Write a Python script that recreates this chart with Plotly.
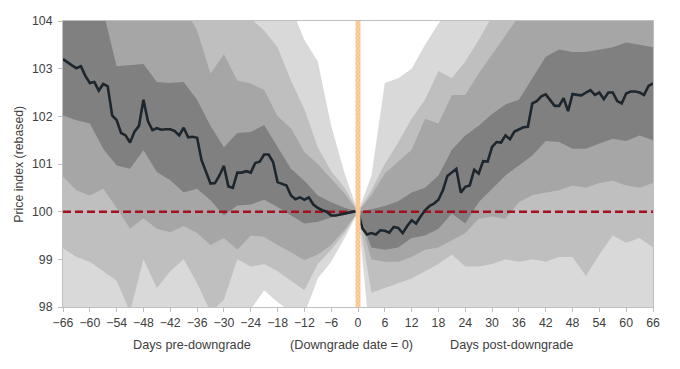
import plotly.graph_objects as go

# ---------------- data ----------------
band_days = list(range(-66, 67, 3))

# percentile band edges (outer -> inner)
p_lo4 = [97.3, 97.3, 97.2, 97.2, 97.2, 97.0, 97.3, 97.2, 97.3, 97.4,
         97.4, 97.4, 97.5, 97.7, 97.95, 98.35, 98.1, 97.9, 97.85, 98.6,
         98.95, 99.45, 100.0, 97.0, 97.0, 97.1, 97.1, 97.2, 97.2, 97.3,
         97.3, 97.3, 97.4, 97.4, 97.4, 97.5, 97.5, 97.5, 97.5, 97.6,
         97.6, 97.6, 97.6, 97.7, 97.7]
p_lo3 = [99.23, 99.05, 98.95, 98.75, 98.55, 97.9, 99.0, 98.4, 98.75, 99.0,
         98.5, 97.9, 98.15, 99.0, 98.85, 98.9, 98.75, 98.55, 98.35, 98.9,
         99.2, 99.55, 100.0, 98.3, 98.4, 98.5, 98.6, 98.75, 98.9, 99.1,
         98.85, 98.85, 98.9, 99.0, 98.95, 99.0, 98.95, 99.05, 99.05, 98.65,
         99.1, 99.5, 99.35, 99.45, 99.25]
p_lo2 = [100.73, 100.45, 100.34, 100.48, 100.08, 99.64, 99.86, 99.64, 99.57, 99.7,
         99.55, 99.3, 99.45, 99.2, 99.5, 99.47, 99.3, 99.15, 98.98, 99.1,
         99.3, 99.62, 100.0, 99.0, 98.95, 98.95, 99.05, 99.2, 99.25, 99.4,
         99.55, 99.85, 99.9, 99.85, 100.2, 100.35, 100.4, 100.45, 100.55, 100.5,
         100.6, 100.65, 100.55, 100.5, 100.6]
p_lo1 = [102.02, 101.92, 101.85, 101.32, 100.97, 100.9, 101.29, 100.83, 100.66, 100.4,
         100.48, 100.24, 99.92, 100.13, 100.15, 100.25, 100.1, 99.92, 99.75, 99.79,
         99.88, 99.93, 100.0, 99.25, 99.2, 99.25, 99.45, 99.5, 99.64, 99.96,
         99.75, 100.2, 100.48, 100.76, 100.97, 101.18, 101.48, 101.46, 101.32, 101.32,
         101.43, 101.53, 101.48, 101.6, 101.5]
p_hi1 = [104.4, 104.3, 104.25, 104.2, 103.05, 103.08, 103.1, 102.72, 102.7, 102.72,
         102.35, 101.8, 101.35, 101.65, 101.67, 101.82, 101.35, 100.9, 100.65, 100.34,
         100.2, 100.08, 100.0, 100.05, 100.12, 100.22, 100.4, 100.5, 100.76, 101.3,
         101.6, 101.8, 102.05, 102.25, 102.35, 102.8, 103.25, 103.4, 103.35, 103.35,
         103.4, 103.45, 103.55, 103.5, 103.45]
p_hi2 = [105.5, 105.4, 105.3, 105.2, 105.0, 104.9, 104.8, 104.6, 104.5, 104.3,
         103.8, 102.9, 103.3, 102.75, 102.69, 102.55, 102.0, 101.75, 101.25, 101.0,
         100.7, 100.38, 100.0, 100.35, 100.8, 101.05, 101.3, 101.95, 101.85, 102.45,
         102.45, 102.9, 103.3, 103.7, 104.1, 104.3, 104.4, 104.5, 104.5, 104.6,
         104.6, 104.7, 104.7, 104.8, 104.8]
p_hi3 = [106.0, 105.9, 105.8, 105.7, 105.5, 105.3, 105.2, 105.0, 104.9, 104.8,
         104.6, 104.5, 104.4, 104.2, 104.05, 103.8, 103.45, 102.75, 102.15, 101.35,
         100.85, 100.5, 100.0, 100.45, 101.0, 101.45, 101.95, 102.35, 102.95, 102.8,
         103.15, 103.6, 104.1, 104.3, 104.5, 104.6, 104.7, 104.8, 104.9, 105.0,
         105.0, 105.1, 105.2, 105.2, 105.3]
p_hi4 = [107.0, 106.9, 106.8, 106.6, 106.4, 106.2, 106.1, 105.9, 105.7, 105.6,
         105.4, 105.2, 105.0, 104.9, 104.7, 104.6, 104.5, 104.3, 103.6, 103.15,
         101.8, 100.8, 100.0, 100.75, 102.7, 102.8, 103.0, 103.5, 103.95, 104.3,
         104.5, 104.7, 104.9, 105.0, 105.2, 105.3, 105.5, 105.6, 105.7, 105.8,
         105.9, 106.0, 106.1, 106.2, 106.3]

med_days = list(range(-66, 67))
median = [103.20, 103.13, 103.07, 103.01, 103.05, 102.85, 102.70, 102.72, 102.54, 102.68, 102.63,
          102.02, 101.92, 101.65, 101.60, 101.45, 101.68, 101.80, 102.35, 101.90, 101.71,
          101.75, 101.72, 101.73, 101.73, 101.69, 101.60, 101.76, 101.56, 101.57, 101.55,
          101.08, 100.83, 100.59, 100.60, 100.76, 100.96, 100.53, 100.50, 100.82, 100.82,
          100.85, 100.82, 101.02, 101.05, 101.20, 101.20, 101.04, 100.62, 100.59, 100.55,
          100.34, 100.26, 100.30, 100.25, 100.30, 100.15, 100.08, 100.03, 100.00, 99.92,
          99.92, 99.94, 99.96, 99.98, 100.00, 100.00, 99.65, 99.52, 99.55, 99.52,
          99.61, 99.60, 99.56, 99.68, 99.66, 99.55, 99.70, 99.82, 99.75, 99.90,
          100.03, 100.12, 100.17, 100.25, 100.45, 100.75, 100.83, 100.90, 100.40, 100.52,
          100.55, 100.88, 100.80, 101.06, 101.05, 101.36, 101.46, 101.45, 101.60, 101.52,
          101.68, 101.73, 101.77, 101.78, 102.27, 102.32, 102.42, 102.46, 102.34, 102.22,
          102.22, 102.38, 102.11, 102.47, 102.45, 102.44, 102.50, 102.55, 102.45, 102.50,
          102.36, 102.50, 102.50, 102.32, 102.27, 102.48, 102.52, 102.52, 102.50, 102.45,
          102.64, 102.69]

baseline = 100
downgrade_day = 0
x_ticks = list(range(-66, 67, 6))
y_range = [98, 104]
x_range = [-66, 66]

# ---------------- figure ----------------
fig = go.Figure()

bands = [
    (p_lo4, p_hi4, "#d9d9d9"),
    (p_lo3, p_hi3, "#bfbfbf"),
    (p_lo2, p_hi2, "#a6a6a6"),
    (p_lo1, p_hi1, "#808080"),
]
for lo, hi, col in bands:
    fig.add_trace(go.Scatter(
        x=band_days + band_days[::-1], y=lo + hi[::-1],
        fill="toself", fillcolor=col, mode="lines",
        line=dict(width=0, color=col), hoverinfo="skip", showlegend=False,
    ))

fig.add_trace(go.Scatter(
    x=[band_days[0], band_days[-1]], y=[baseline, baseline], mode="lines",
    line=dict(color="#a50f1e", width=2.5, dash="8px,4px"), showlegend=False,
))

fig.add_trace(go.Scatter(
    x=med_days, y=median, mode="lines",
    line=dict(color="#1e262d", width=2.6), showlegend=False,
))

# downgrade-date marker bar on an overlay axis so it sits on top
fig.add_trace(go.Bar(
    x=[downgrade_day], y=[y_range[1] - y_range[0]], base=[y_range[0]], width=[1.1],
    marker=dict(color="#fcd2a6", line=dict(width=0),
                pattern=dict(shape="x", fgcolor="#f2a055", size=3, solidity=0.45)),
    xaxis="x2", yaxis="y2", showlegend=False,
))

axis_col = "#bfbfbf"
text_col = "#404040"
font_family = "Liberation Sans, Arial, sans-serif"

fig.update_layout(
    width=680, height=369,
    margin=dict(l=63, r=27, t=21, b=62),
    paper_bgcolor="white", plot_bgcolor="white",
    font=dict(family=font_family, size=12, color=text_col),
    showlegend=False,
    xaxis=dict(range=x_range, tickvals=x_ticks, ticks="outside", ticklen=4,
               tickcolor=axis_col, showline=True, linecolor=axis_col, linewidth=1,
               mirror=True, showgrid=False, zeroline=False,
               tickfont=dict(size=12.3, color=text_col)),
    yaxis=dict(range=y_range, dtick=1, ticks="outside", ticklen=4,
               tickcolor=axis_col, showline=True, linecolor=axis_col, linewidth=1,
               mirror=True, showgrid=False, zeroline=False,
               tickfont=dict(size=12.3, color=text_col), ticklabelstandoff=3),
    xaxis2=dict(range=x_range, overlaying="x", visible=False),
    yaxis2=dict(range=y_range, overlaying="y", visible=False),
)

def px_x(p):
    return (p - 63.3) / 590.0

fig.add_annotation(text="Price index (rebased)", textangle=-90, xref="paper", yref="paper",
                   x=px_x(19), y=0.5, showarrow=False, xanchor="center", yanchor="middle",
                   font=dict(size=12.3, color=text_col))
label_y = (306.7 - 345) / 286.0
for txt, cx in [("Days pre-downgrade", 192.5), ("(Downgrade date = 0)", 351.3),
                ("Days post-downgrade", 511.5)]:
    fig.add_annotation(text=txt, xref="paper", yref="paper", x=px_x(cx), y=label_y,
                       showarrow=False, xanchor="center", yanchor="middle",
                       font=dict(size=12.7, color=text_col))

fig.write_html("out.html", config={"displayModeBar": False},
               post_script="document.body.style.margin='0';document.body.style.padding='0';")
